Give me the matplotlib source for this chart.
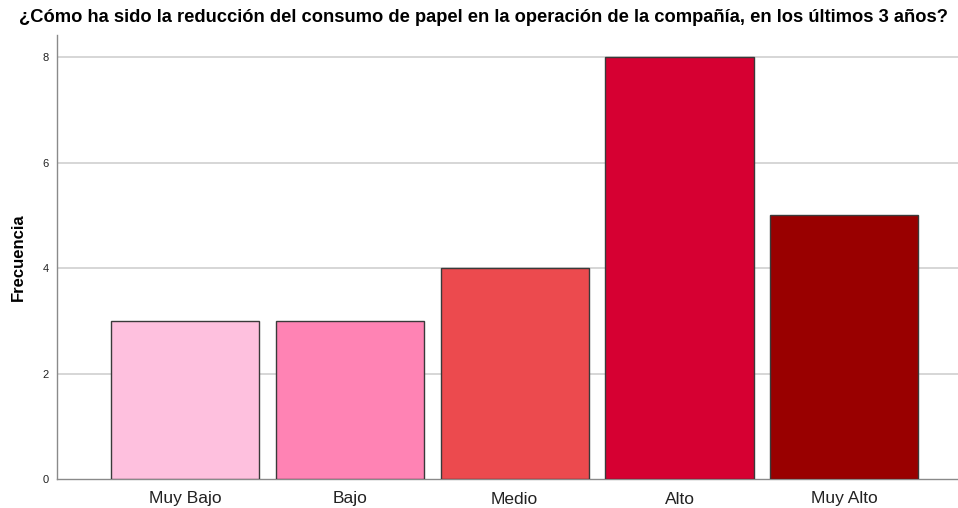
import matplotlib
matplotlib.use("Agg")
import matplotlib.pyplot as plt

categories = ["Muy Bajo", "Bajo", "Medio", "Alto", "Muy Alto"]
values = [3, 3, 4, 8, 5]
colors = ["#FEC0DE", "#FF83B4", "#EC4A4E", "#D60032", "#990000"]
yticks = [0, 2, 4, 6, 8]

plt.rcParams['font.family'] = ['Liberation Sans', 'DejaVu Sans']

fig = plt.figure(figsize=(9.58, 5.08), dpi=100)
ax = fig.add_axes([57/958, 29/508, 901/958, 444/508])

x = list(range(len(categories)))
ax.bar(x, values, width=0.9, color=colors, edgecolor="#3a3a3a", linewidth=1.0, zorder=3)

ax.set_xlim(-0.777, 4.69)
ax.set_ylim(0, 8.42)
ax.set_yticks(yticks)
ax.set_yticklabels([str(v) for v in yticks], fontsize=8)
ax.set_xticks(x)
ax.set_xticklabels(categories, fontsize=12.5)
ax.tick_params(axis='both', length=0, colors="#222222")
ax.tick_params(axis='y', pad=6)
ax.tick_params(axis='x', pad=9)

for v in yticks[1:]:
    ax.axhline(v, color="#cfcfcf", linewidth=1.2, zorder=1)

for s in ["top", "right"]:
    ax.spines[s].set_visible(False)
ax.spines["left"].set_color("#8a8a8a")
ax.spines["bottom"].set_color("#8a8a8a")
ax.spines["left"].set_linewidth(1.0)
ax.spines["bottom"].set_linewidth(1.0)

ax.set_ylabel("Frecuencia", fontsize=12, fontweight="bold", labelpad=12)
fig.text(0.5 + 4/958, 1 - 18/508, "¿Cómo ha sido la reducción del consumo de papel en la operación de la compañía, en los últimos 3 años?",
         ha="center", va="center", fontsize=13.2, fontweight="bold")

fig.savefig("out.png", dpi=100)
